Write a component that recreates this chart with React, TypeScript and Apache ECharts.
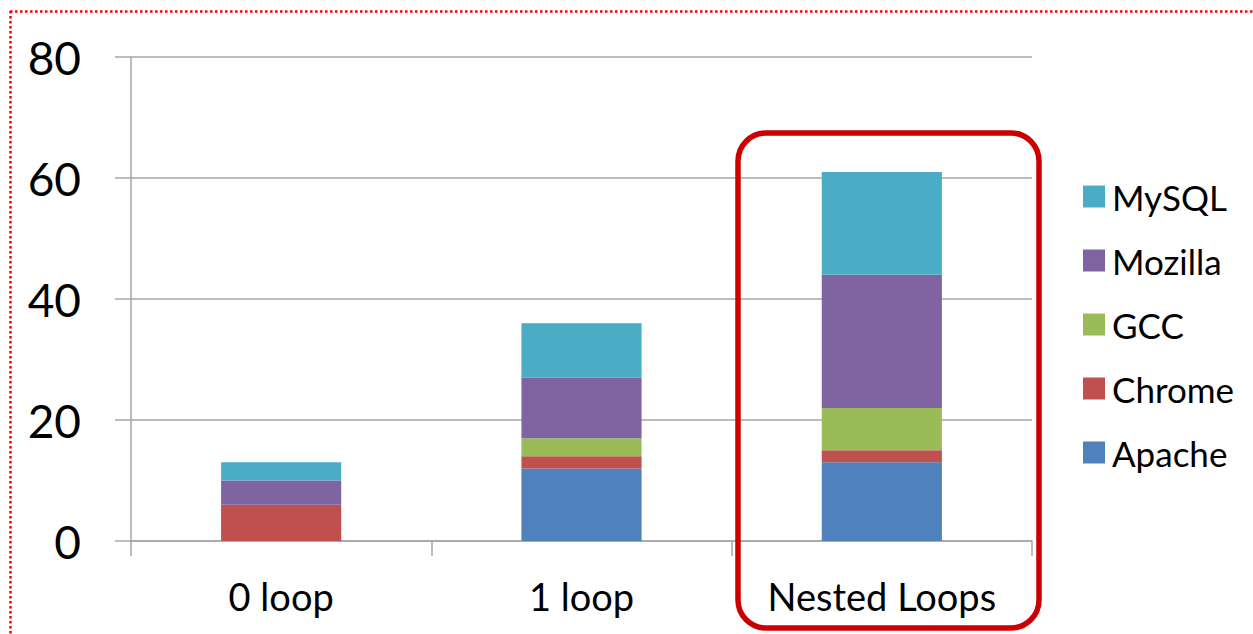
import React, { useEffect, useRef } from "react";
import * as echarts from "echarts";

const categories = ["0 loop", "1 loop", "Nested Loops"];
const apache = [0, 12, 13];
const chrome = [6, 2, 2];
const gcc = [0, 3, 7];
const mozilla = [4, 10, 22];
const mysql = [3, 9, 17];

const seriesNames = ["Apache", "Chrome", "GCC", "Mozilla", "MySQL"];
const seriesValues = [apache, chrome, gcc, mozilla, mysql];
const seriesColors = ["#4F81BD", "#C0504D", "#9BBB59", "#8064A2", "#4BACC6"];

const FONT = "Lato, 'Open Sans', sans-serif";
const GRID_GRAY = "#A6A6A6";

export default function App() {
  const ref = useRef<HTMLDivElement>(null);

  useEffect(() => {
    document.body.style.margin = "0";
    const chart = echarts.init(ref.current!, null, { renderer: "svg" });
    chart.setOption({
      animation: false,
      backgroundColor: "#ffffff",
      grid: { left: 131, top: 57, right: 221, bottom: 93 },
      xAxis: {
        type: "category",
        data: categories,
        boundaryGap: true,
        axisLine: { lineStyle: { color: GRID_GRAY, width: 1.5 } },
        axisTick: { show: true, length: 15, lineStyle: { color: GRID_GRAY, width: 1.5 } },
        axisLabel: { color: "#000", fontSize: 38, fontFamily: FONT, margin: 36 },
      },
      yAxis: {
        type: "value",
        min: 0,
        max: 80,
        interval: 20,
        axisLine: { show: true, lineStyle: { color: GRID_GRAY, width: 1.5 } },
        axisTick: { show: true, length: 16, lineStyle: { color: GRID_GRAY, width: 1.5 } },
        splitLine: { show: true, lineStyle: { color: GRID_GRAY, width: 1.5 } },
        axisLabel: { color: "#000", fontSize: 46, fontFamily: FONT, margin: 50 },
      },
      legend: {
        orient: "vertical",
        left: 1078,
        top: 174,
        data: [...seriesNames].reverse(),
        icon: "rect",
        itemWidth: 22,
        itemHeight: 22,
        itemGap: 29,
        textStyle: {
          color: "#000",
          fontSize: 35,
          lineHeight: 35,
          fontFamily: FONT,
          padding: [0, 0, 0, 2],
        },
      },
      series: seriesNames.map((name, i) => ({
        name,
        type: "bar",
        stack: "total",
        barWidth: "40%",
        data: seriesValues[i],
        itemStyle: { color: seriesColors[i] },
      })),
      graphic: [
        {
          type: "line",
          shape: { x1: 10, y1: 11.5, x2: 1253, y2: 11.5 },
          style: { stroke: "#FF0000", lineWidth: 2.5, lineDash: [2.5, 2.5] },
        },
        {
          type: "line",
          shape: { x1: 10.5, y1: 11, x2: 10.5, y2: 634 },
          style: { stroke: "#FF0000", lineWidth: 2.5, lineDash: [2.5, 2.5] },
        },
        {
          type: "rect",
          shape: { x: 738, y: 133, width: 301, height: 495, r: 28 },
          style: { fill: "none", stroke: "#CC0000", lineWidth: 5.5 },
          z: 100,
        },
      ],
    });
    return () => chart.dispose();
  }, []);

  return <div ref={ref} style={{ width: 1253, height: 634 }} />;
}
